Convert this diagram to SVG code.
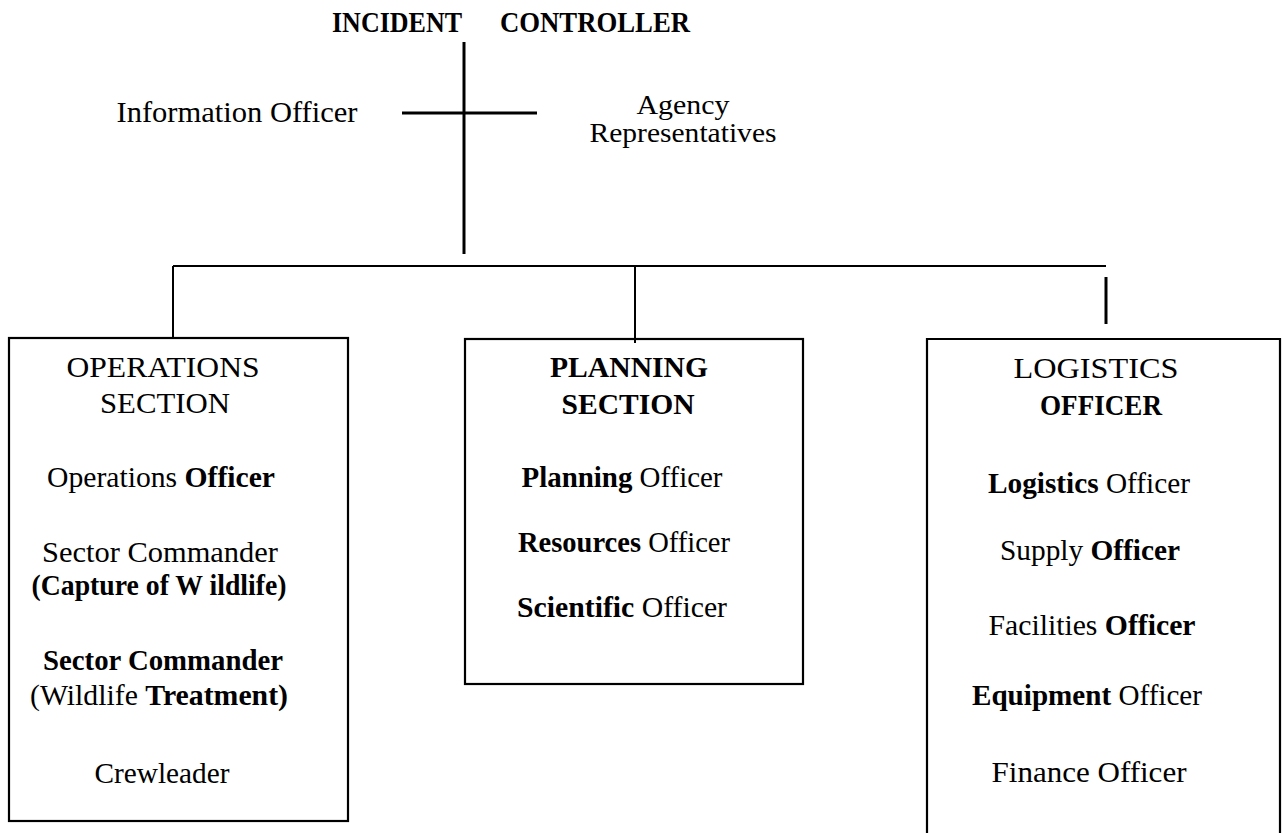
<svg xmlns="http://www.w3.org/2000/svg" width="1282" height="833" viewBox="0 0 1282 833">
  <style>
    text { font-family: "Liberation Serif", "Times New Roman", serif; fill: #000; text-anchor: middle; }
    .t { font-size: 29px; }
    .b { font-weight: bold; }
    .lbl { font-size: 30px; }
    .box { fill: none; stroke: #000; stroke-width: 2.2; }
    .wire { fill: none; stroke: #000; stroke-width: 2; }
    .trunk { fill: none; stroke: #000; stroke-width: 3; }
  </style>
  <rect width="1282" height="833" fill="#fff"/>

  <!-- connectors -->
  <g id="connectors">
    <line class="trunk" x1="464" y1="42" x2="464" y2="254"/>
    <line class="trunk" x1="402" y1="113" x2="537" y2="113"/>
    <line class="wire" x1="173" y1="266" x2="1106" y2="266"/>
    <line class="wire" x1="173" y1="266" x2="173" y2="338"/>
    <line class="wire" x1="635" y1="266" x2="635" y2="343"/>
    <line class="trunk" x1="1106" y1="277" x2="1106" y2="324"/>
  </g>

  <!-- top of the chart -->
  <g id="incident-controller">
    <text class="b" font-size="30" x="397" y="32" textLength="130" lengthAdjust="spacingAndGlyphs">INCIDENT</text>
    <text class="b" font-size="30" x="595" y="32" textLength="190" lengthAdjust="spacingAndGlyphs">CONTROLLER</text>
  </g>
  <g id="information-officer">
    <text class="lbl" x="237" y="122" textLength="241" lengthAdjust="spacingAndGlyphs">Information Officer</text>
  </g>
  <g id="agency-representatives">
    <text font-size="28" x="683" y="114" textLength="93" lengthAdjust="spacingAndGlyphs">Agency</text>
    <text font-size="28" x="683" y="142" textLength="187" lengthAdjust="spacingAndGlyphs">Representatives</text>
  </g>

  <!-- operations section -->
  <g id="operations-section">
    <rect class="box" x="9" y="338" width="339" height="483"/>
    <text class="t" x="163" y="377" textLength="193" lengthAdjust="spacingAndGlyphs">OPERATIONS</text>
    <text class="t" x="165" y="413" textLength="130" lengthAdjust="spacingAndGlyphs">SECTION</text>
    <text class="t" x="161" y="487" textLength="228" lengthAdjust="spacingAndGlyphs">Operations <tspan class="b">Officer</tspan></text>
    <text class="t" x="160" y="562" textLength="236" lengthAdjust="spacingAndGlyphs">Sector Commander</text>
    <text class="t b" x="159" y="595" textLength="255" lengthAdjust="spacingAndGlyphs">(Capture  of  W  ildlife)</text>
    <text class="t b" x="163" y="670" textLength="240" lengthAdjust="spacingAndGlyphs">Sector  Commander</text>
    <text class="t" x="159" y="705" textLength="258" lengthAdjust="spacingAndGlyphs">(Wildlife  <tspan class="b">Treatment)</tspan></text>
    <text class="t" x="162" y="783" textLength="135" lengthAdjust="spacingAndGlyphs">Crewleader</text>
  </g>

  <!-- planning section -->
  <g id="planning-section">
    <rect class="box" x="465" y="339" width="338" height="345"/>
    <text class="t b" x="629" y="377" textLength="158" lengthAdjust="spacingAndGlyphs">PLANNING</text>
    <text class="t b" x="628" y="414" textLength="133" lengthAdjust="spacingAndGlyphs">SECTION</text>
    <text class="t" x="622" y="487" textLength="201" lengthAdjust="spacingAndGlyphs"><tspan class="b">Planning</tspan> Officer</text>
    <text class="t" x="624" y="552" textLength="212" lengthAdjust="spacingAndGlyphs"><tspan class="b">Resources</tspan> Officer</text>
    <text class="t" x="622" y="617" textLength="210" lengthAdjust="spacingAndGlyphs"><tspan class="b">Scientific</tspan>  Officer</text>
  </g>

  <!-- logistics, open at the bottom edge -->
  <g id="logistics-officer">
    <path class="box" d="M927 833 V339 H1280 V833"/>
    <text class="t" x="1096" y="378" textLength="165" lengthAdjust="spacingAndGlyphs">LOGISTICS</text>
    <text class="t b" x="1101" y="415" textLength="122" lengthAdjust="spacingAndGlyphs">OFFICER</text>
    <text class="t" x="1089" y="493" textLength="202" lengthAdjust="spacingAndGlyphs"><tspan class="b">Logistics</tspan> Officer</text>
    <text class="t" x="1090" y="560" textLength="180" lengthAdjust="spacingAndGlyphs">Supply <tspan class="b">Officer</tspan></text>
    <text class="t" x="1092" y="635" textLength="207" lengthAdjust="spacingAndGlyphs">Facilities  <tspan class="b">Officer</tspan></text>
    <text class="t" x="1087" y="705" textLength="230" lengthAdjust="spacingAndGlyphs"><tspan class="b">Equipment</tspan> Officer</text>
    <text class="t" x="1089" y="782" textLength="195" lengthAdjust="spacingAndGlyphs">Finance Officer</text>
  </g>
</svg>
